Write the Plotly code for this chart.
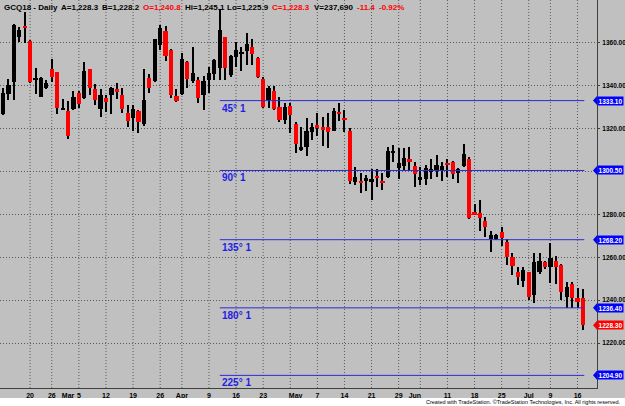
import pandas as pd
import plotly.graph_objects as go

# ---------------- data ----------------
holidays = ["2018-02-19", "2018-03-30", "2018-05-28", "2018-07-04"]
dates = [d.strftime("%Y-%m-%d") for d in pd.bdate_range("2018-02-12", "2018-07-17")
         if d.strftime("%Y-%m-%d") not in holidays]

opens = [1326.9, 1336.2, 1341.9, 1362.9, 1367.6, 1361.1, 1343.0, 1334.9, 1338.8, 1347.7,
         1346.3, 1328.9, 1328.3, 1329.0, 1336.5, 1334.5, 1347.7, 1338.4, 1329.0, 1334.2,
         1335.7, 1338.4, 1335.7, 1327.2, 1325.2, 1328.3, 1322.0, 1343.8, 1342.3, 1359.1,
         1365.6, 1356.7, 1335.3, 1336.2, 1351.3, 1342.3, 1342.7, 1335.7, 1342.7, 1345.5,
         1348.2, 1362.7, 1345.1, 1353.6, 1355.0, 1356.4, 1358.3, 1352.9, 1343.1, 1333.4,
         1337.7, 1330.3, 1324.1, 1330.6, 1322.2, 1310.1, 1311.6, 1318.6, 1321.7, 1321.0,
         1321.0, 1319.1, 1327.7, 1324.6, 1318.9, 1295.3, 1295.7, 1295.7, 1295.3, 1297.9,
         1295.7, 1297.6, 1309.0, 1301.8, 1302.6, 1305.7, 1302.6, 1296.5, 1296.4, 1299.9,
         1300.7, 1300.7, 1303.7, 1304.4, 1299.5, 1302.7, 1305.9, 1281.0, 1280.5, 1276.9,
         1268.4, 1268.4, 1271.7, 1267.0, 1260.0, 1253.3, 1249.1, 1253.0, 1242.4, 1253.3,
         1258.0, 1255.3, 1258.3, 1256.4, 1241.6, 1247.5, 1240.9, 1240.8]
highs = [1338.8, 1343.0, 1368.9, 1367.6, 1374.5, 1361.5, 1348.5, 1344.3, 1342.5, 1352.4,
         1346.5, 1333.9, 1332.9, 1337.7, 1337.7, 1351.3, 1348.0, 1340.9, 1338.4, 1335.7,
         1339.6, 1341.5, 1338.8, 1331.1, 1331.1, 1328.7, 1347.9, 1345.5, 1362.0, 1368.4,
         1367.9, 1357.0, 1338.4, 1355.2, 1351.5, 1358.3, 1344.3, 1344.6, 1348.9, 1352.5,
         1376.0, 1363.0, 1354.2, 1360.6, 1358.3, 1364.5, 1361.7, 1353.5, 1344.3, 1339.9,
         1339.9, 1335.0, 1332.1, 1332.1, 1323.3, 1321.0, 1324.9, 1322.8, 1327.2, 1325.3,
         1327.2, 1329.5, 1332.1, 1328.7, 1320.2, 1302.0, 1299.5, 1298.4, 1301.1, 1301.1,
         1299.2, 1311.6, 1312.4, 1311.0, 1310.9, 1311.6, 1304.6, 1302.3, 1303.1, 1305.7,
         1307.7, 1304.6, 1305.7, 1304.9, 1301.5, 1312.9, 1306.7, 1284.9, 1286.7, 1278.7,
         1272.3, 1271.0, 1274.0, 1268.4, 1261.9, 1255.6, 1255.6, 1253.3, 1262.1, 1262.1,
         1258.4, 1266.8, 1260.7, 1256.8, 1248.6, 1248.6, 1245.5, 1245.1]
lows = [1326.5, 1333.4, 1333.4, 1360.6, 1360.2, 1341.5, 1336.2, 1334.6, 1338.5, 1341.9,
        1326.7, 1328.7, 1315.2, 1328.5, 1329.8, 1334.0, 1335.7, 1331.1, 1325.6, 1327.6,
        1326.9, 1333.7, 1327.2, 1321.0, 1319.1, 1318.2, 1321.3, 1336.8, 1342.0, 1356.7,
        1351.8, 1334.2, 1332.6, 1335.7, 1338.8, 1341.5, 1332.1, 1328.7, 1336.5, 1342.7,
        1342.7, 1342.7, 1344.3, 1348.9, 1347.1, 1349.7, 1349.7, 1343.5, 1329.5, 1329.5,
        1328.7, 1323.3, 1322.2, 1317.9, 1308.5, 1309.8, 1307.3, 1314.7, 1316.6, 1311.9,
        1310.9, 1318.8, 1323.6, 1318.6, 1294.2, 1293.7, 1290.1, 1291.1, 1286.7, 1292.7,
        1291.4, 1297.0, 1304.4, 1296.4, 1300.4, 1300.7, 1293.0, 1293.7, 1293.7, 1296.4,
        1297.6, 1295.7, 1297.6, 1296.4, 1294.5, 1302.3, 1277.7, 1279.7, 1272.4, 1269.6,
        1262.3, 1268.0, 1265.3, 1256.4, 1251.7, 1247.1, 1246.3, 1240.1, 1238.5, 1252.2,
        1254.5, 1247.9, 1247.5, 1240.1, 1236.2, 1236.2, 1236.2, 1225.9]
closes = [1336.5, 1340.4, 1368.4, 1366.1, 1367.0, 1341.9, 1343.4, 1343.5, 1341.5, 1344.0,
          1329.8, 1329.2, 1316.6, 1334.9, 1331.4, 1346.9, 1339.1, 1333.4, 1335.7, 1332.3,
          1338.8, 1337.3, 1329.0, 1323.8, 1329.0, 1323.3, 1333.4, 1339.1, 1361.7, 1367.1,
          1354.1, 1335.7, 1333.1, 1352.5, 1343.2, 1346.2, 1334.2, 1342.4, 1346.1, 1352.1,
          1366.1, 1348.2, 1353.9, 1356.7, 1355.4, 1359.5, 1354.9, 1344.0, 1330.0, 1338.9,
          1329.0, 1324.1, 1330.0, 1326.4, 1312.9, 1311.6, 1319.1, 1321.0, 1320.2, 1319.4,
          1318.6, 1328.3, 1326.7, 1324.2, 1295.7, 1297.3, 1294.8, 1296.9, 1296.4, 1297.0,
          1294.5, 1309.7, 1309.4, 1303.9, 1306.3, 1304.6, 1298.9, 1297.2, 1301.8, 1301.1,
          1303.1, 1302.6, 1303.3, 1298.9, 1301.1, 1308.1, 1278.2, 1280.1, 1278.5, 1274.0,
          1270.4, 1270.4, 1268.9, 1260.0, 1256.0, 1250.9, 1254.1, 1241.6, 1258.0, 1258.4,
          1255.6, 1259.5, 1255.3, 1244.0, 1246.3, 1240.9, 1239.3, 1228.3]

tick_dates = ["2018-02-20", "2018-02-26", "2018-03-01", "2018-03-05", "2018-03-12",
              "2018-03-19", "2018-03-26", "2018-04-02", "2018-04-09", "2018-04-16",
              "2018-04-23", "2018-05-01", "2018-05-07", "2018-05-14", "2018-05-21",
              "2018-05-29", "2018-06-01", "2018-06-11", "2018-06-18", "2018-06-25",
              "2018-07-02", "2018-07-09", "2018-07-16"]
tick_text = ["20", "26", "Mar", "5", "12", "19", "26", "Apr", "9", "16", "23", "May",
             "7", "14", "21", "29", "Jun", "11", "18", "25", "Jul", "9", "16"]
grid_dates = ["2018-02-20", "2018-02-26", "2018-03-05", "2018-03-12", "2018-03-19",
              "2018-03-26", "2018-04-02", "2018-04-09", "2018-04-16", "2018-04-23",
              "2018-04-30", "2018-05-07", "2018-05-14", "2018-05-21", "2018-05-29",
              "2018-06-04", "2018-06-11", "2018-06-18", "2018-06-25", "2018-07-02",
              "2018-07-09", "2018-07-16"]

gann_start = "2018-04-11"
gann_levels = [1333.10, 1300.50, 1268.20, 1236.40, 1204.90]
gann_labels = ["45° 1", "90° 1", "135° 1", "180° 1", "225° 1"]

price_ticks = [1220, 1240, 1260, 1280, 1300, 1320, 1340, 1360]

header = [("GCQ18 - Daily", 2, "black"), ("A=1,228.3", 59, "black"),
          ("B=1,228.2", 100, "black"), ("O=1,240.8", 141, "red"),
          ("Hi=1,245.1", 183, "black"), ("Lo=1,225.9", 225, "black"),
          ("C=1,228.3", 270, "red"), ("V=237,690", 312, "black"),
          ("-11.4", 355, "red"), ("-0.92%", 377, "red")]

# ---------------- figure ----------------
FONT = "Liberation Sans, Arial"
W, H = 625, 406
PW, PH = 597, 388          # plot area in pixels
idx = list(range(len(dates)))
pos = {d: i for i, d in enumerate(dates)}

up = [c >= o for o, c in zip(opens, closes)]
body_base = [min(o, c) for o, c in zip(opens, closes)]
body_h = [max(abs(c - o), 0.8) for o, c in zip(opens, closes)]
body_col = ["#000000" if u else "#FF0000" for u in up]

fig = go.Figure()
# wicks
fig.add_trace(go.Bar(x=idx, y=[h - l for h, l in zip(highs, lows)], base=lows,
                     width=0.19, marker=dict(color="#000000", line=dict(width=0)),
                     hoverinfo="skip", showlegend=False))
# bodies
fig.add_trace(go.Bar(x=idx, y=body_h, base=body_base, width=0.78,
                     marker=dict(color=body_col, line=dict(width=0)),
                     showlegend=False))

g0 = pos[gann_start]
g1 = idx[-1] + 0.25
for lvl in gann_levels:
    fig.add_trace(go.Scatter(x=[g0, g1], y=[lvl, lvl], mode="lines",
                             line=dict(color="#2A2AD2", width=1),
                             hoverinfo="skip", showlegend=False))

shapes = []
for d in grid_dates:
    shapes.append(dict(type="line", xref="x", yref="paper", x0=pos[d], x1=pos[d],
                       y0=0, y1=1, line=dict(color="#5A5A5A", width=1, dash="1px,2px"),
                       layer="below"))
# white footer strip
shapes.append(dict(type="rect", xref="paper", yref="paper", x0=-0.01, x1=W / PW + 0.01,
                   y0=1 - (H + 2) / PH, y1=1 - 398 / PH, fillcolor="white",
                   line=dict(width=0)))

annotations = []
for t, px, col in header:
    annotations.append(dict(text=t, xref="paper", yref="paper", x=px / PW, y=1 - 7 / PH,
                            xanchor="left", yanchor="middle", showarrow=False,
                            font=dict(family=FONT, size=8, color=col, weight="bold")))

for lvl, lab in zip(gann_levels, gann_labels):
    annotations.append(dict(text=lab, xref="x", yref="y", x=g0, y=lvl, xanchor="left",
                            yanchor="top", xshift=0, yshift=0, showarrow=False,
                            font=dict(family=FONT, size=10, color="#1E1EE6", weight="bold")))

def price_box(val, color):
    annotations.append(dict(text=f"{val:.2f}", xref="paper", yref="y", x=1.0, y=val,
                            xanchor="left", yanchor="middle", showarrow=False,
                            bgcolor=color, width=25, height=8, borderpad=0,
                            font=dict(family=FONT, size=6.5, color="white", weight="bold")))
    shapes.append(dict(type="path", xref="paper", yref="y",
                       path=f"M {593 / PW},{val} L {1.0},{val + 2.1} L {1.0},{val - 2.1} Z",
                       fillcolor=color, line=dict(width=0)))

for lvl in gann_levels:
    price_box(lvl, "#0000FF")
price_box(closes[-1], "#FF0000")

annotations.append(dict(text="Created with TradeStation. ©TradeStation Technologies, Inc. All rights reserved.",
                        xref="paper", yref="paper", x=623 / PW, y=1 - 402 / PH,
                        xanchor="right", yanchor="middle", showarrow=False,
                        font=dict(family=FONT, size=5.5, color="black")))

step = 5.42
x_left = -3 / step
fig.update_layout(
    width=W, height=H,
    margin=dict(l=0, r=W - PW, t=0, b=H - PH, pad=0, autoexpand=False),
    plot_bgcolor="#C0C0C0", paper_bgcolor="#C0C0C0",
    barmode="overlay", bargap=0, showlegend=False, hovermode=False,
    shapes=shapes, annotations=annotations,
    xaxis=dict(range=[x_left, x_left + PW / step], tickvals=[pos[d] for d in tick_dates],
               ticktext=tick_text, showgrid=False, zeroline=False, showline=True,
               linecolor="#404040", linewidth=1, ticks="", ticklabelstandoff=1,
               tickfont=dict(family=FONT, size=7, color="black", weight="bold")),
    yaxis=dict(range=[1199.0, 1199.0 + PH / 2.143], side="right", tickvals=price_ticks,
               ticktext=["" if v == 1300 else f"{v:.2f}" for v in price_ticks],
               showgrid=True, gridcolor="#5A5A5A", gridwidth=1, griddash="1px,2px",
               zeroline=False, showline=True, linecolor="#404040", linewidth=1,
               ticks="outside", ticklen=2, tickcolor="#404040", ticklabelstandoff=1,
               tickfont=dict(family=FONT, size=6.5, color="black", weight="bold")),
)

fig.write_html("out.html", config={"displayModeBar": False},
               post_script="document.body.style.margin='0px';"
                           "document.body.style.padding='0px';"
                           "document.body.style.overflow='hidden';")
